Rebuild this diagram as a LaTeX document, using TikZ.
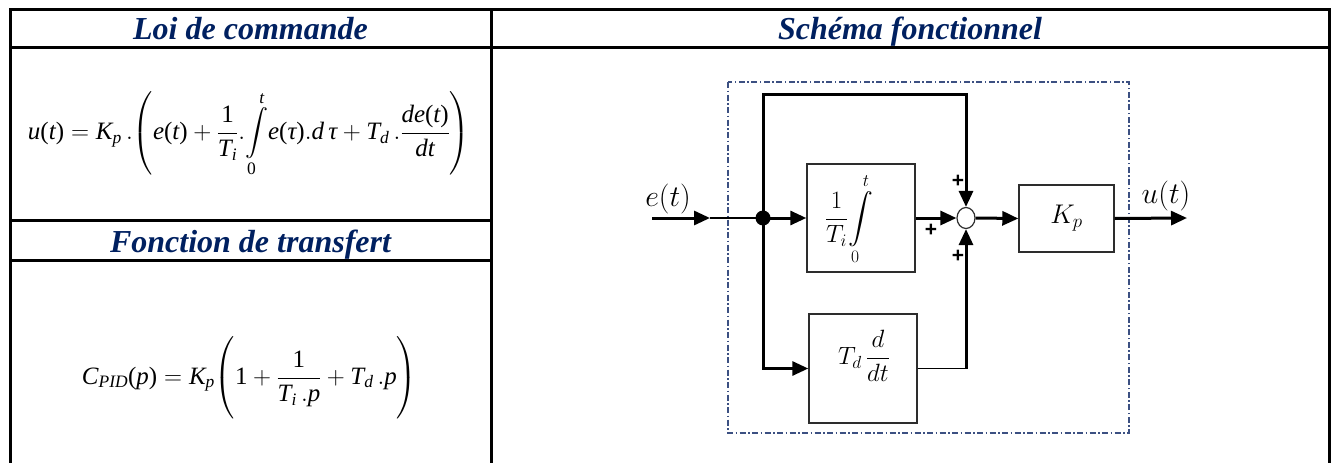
\documentclass[tikz,border=0pt]{standalone}
\usepackage{fix-cm}
\usepackage{amsmath}
\usepackage{fontspec}
\setmainfont{Liberation Serif}
\newfontfamily\plusfont{Liberation Sans}
\usetikzlibrary{arrows.meta,shapes.geometric}
\definecolor{hdrblue}{RGB}{0,32,96}
\definecolor{framecol}{RGB}{60,80,130}
\definecolor{boxgray}{RGB}{45,45,45}
\newcommand\vi[1]{\textit{#1}}
\newcommand\fn[2]{\textit{#1}\textup{(}\textit{#2}\textup{)}}
\begin{document}
\begin{tikzpicture}[x=1pt,y=-1pt,
  tbl/.style={line width=3pt,black},
  hdr/.style={font=\fontsize{32}{38}\selectfont\bfseries\itshape, text=hdrblue, anchor=base, inner sep=0pt},
  blk/.style={draw=boxgray, line width=1.4pt, rectangle, inner sep=0pt},
  bm/.style={font=\fontsize{25}{30}\selectfont, inner sep=0pt},
  lbl/.style={font=\fontsize{30}{34}\selectfont, inner sep=0pt},
  thk/.style={line width=3pt},
  thn/.style={line width=1.2pt},
  arr/.style={-{Triangle[length=16pt,width=14pt]}},
  pls/.style={font=\plusfont\bfseries\fontsize{21}{24}\selectfont, inner sep=0pt}
]
\useasboundingbox (0,0) rectangle (1334,463);
% table
\draw[tbl] (10,463) -- (10,9.3) -- (1329.5,9.3) -- (1329.5,463);
\draw[tbl] (10,47) -- (1329.5,47);
\draw[tbl] (491,9.3) -- (491,463);
\draw[tbl] (10,220.8) -- (491,220.8);
\draw[tbl] (10,260) -- (491,260);
% headers
\node[hdr] (h1) at (250.5,39) {Loi de commande};
\node[hdr] (h2) at (910,39) {Schéma fonctionnel};
\node[hdr] (h3) at (250.5,252) {Fonction de transfert};
% formulas
\node (law) at (249,134) {\resizebox{442pt}{!}{\fontsize{27}{32}\selectfont$\displaystyle \fn{u}{t} = \vi{K}_{\vi{p}}\,.\!\left(\fn{e}{t} + \frac{\textup{1}}{\vi{T}_{\vi{i}}}.\!\int\limits_{\textup{0}}^{\vi{t}}\! \fn{e}{τ}.\vi{d}\,\vi{τ} + \vi{T}_{\vi{d}}\,.\frac{\vi{d}\fn{e}{t}}{\vi{dt}}\right)$}};
\node (tf) at (249.5,378) {\resizebox{335pt}{!}{\fontsize{27}{32}\selectfont$\displaystyle \textit{C}_{\textit{PID}}\textup{(}\textit{p}\textup{)} = \vi{K}_{\vi{p}}\Biggl(\textup{1} + \frac{\textup{1}}{\vi{T}_{\vi{i}}\,.\vi{p}} + \vi{T}_{\vi{d}}\,.\vi{p}\Biggr)$}};
% frame
\draw[framecol, line width=1.2pt, dash pattern=on 6pt off 2.5pt on 1.5pt off 2.5pt] (728,82) rectangle (1129,433);
% blocks
\node[blk, minimum width=108pt, minimum height=108pt] (integ) at (861,218) {};
\node[bm] (integtxt) at (849,219) {$\displaystyle \frac{1}{T_i}\!\int\limits_0^t$};
\node[blk, minimum width=108pt, minimum height=109pt] (deriv) at (863,368.5) {};
\node[bm] (derivtxt) at (864,356) {$\displaystyle T_d\,\frac{d}{dt}$};
\node[blk, bm, minimum width=95pt, minimum height=67pt, font=\fontsize{27}{30}\selectfont] (kp) at (1066.5,218.5) {$K_p$};
\node[draw=boxgray, line width=1.2pt, ellipse, minimum width=18pt, minimum height=21pt, inner sep=0pt] (sum) at (966,218) {};
\node[circle, fill=black, minimum size=15pt, inner sep=0pt] (junc) at (763,218) {};
\node[lbl] (elab) at (668,199) {$e(t)$};
\node[lbl] (ulab) at (1166,196) {$u(t)$};
\coordinate (ein) at (652,218);
\coordinate (earr) at (710,218);
\coordinate (tl) at (763,94);
\coordinate (tr) at (966,94);
\coordinate (bl) at (763,368.5);
\coordinate (dcorner) at (966,368.5);
\coordinate (uout) at (1187,218);
% connectors
\draw[thk,arr] (ein) -- (earr);
\draw[thn] (earr) -- (junc.center);
\draw[thk,arr] (junc.center) -- (integ.west);
\draw[thk,arr] (junc.center) -- (bl) -- (deriv.west);
\draw[thk,arr] (junc.center) -- (tl) -- (tr) -- (sum.north);
\draw[thk,arr] (integ.east) -- (sum.west);
\draw[thn] (deriv.east) -- (dcorner);
\draw[thk,arr] (dcorner) -- (sum.south);
\draw[thk,arr] (sum.east) -- (kp.west);
\draw[thk,arr] (kp.east) -- (uout);
% signs
\node[pls] (p1) at (958,181) {+};
\node[pls] (p2) at (931,230) {+};
\node[pls] (p3) at (958,256) {+};
\end{tikzpicture}
\end{document}
